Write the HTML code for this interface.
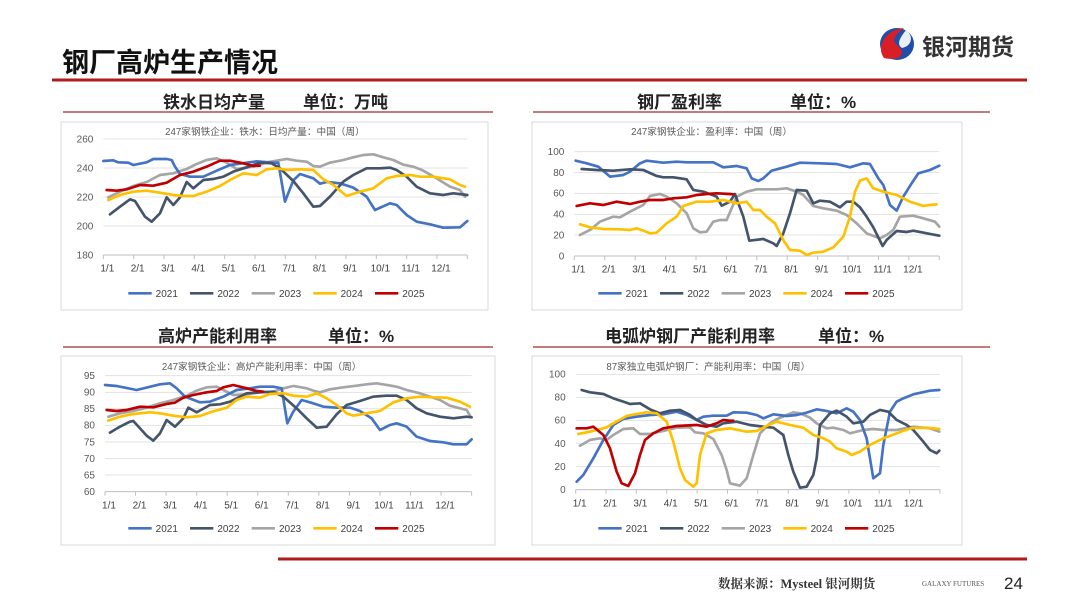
<!DOCTYPE html>
<html><head><meta charset="utf-8">
<style>
html,body{margin:0;padding:0;background:#fff;}
body{width:1080px;height:608px;position:relative;overflow:hidden;font-family:"Liberation Sans","Noto Sans CJK SC",sans-serif;}
</style></head>
<body>
<svg id="s" width="1080" height="608" viewBox="0 0 1080 608" xmlns="http://www.w3.org/2000/svg" style="position:absolute;left:0;top:0">
<text x="62" y="72" font-size="27" font-weight="bold" fill="#111" font-family="Liberation Sans,Noto Sans CJK SC,sans-serif">钢厂高炉生产情况</text>
<rect x="52" y="78.5" width="975" height="3" fill="#b01c1c"/>
<g>
<ellipse cx="897" cy="44" rx="17" ry="16" fill="#1f4fa8"/>
<path d="M884 58 C876 48 884 30 904 28 C896 34 890 40 898 46 C906 52 902 62 884 58 Z" fill="#d91f26"/>
<path d="M906 30 C914 36 912 46 902 48 C896 44 900 38 906 30Z" fill="#fff" opacity="0.9"/>
<text x="922" y="55" font-size="23" font-weight="bold" fill="#333" font-family="Liberation Sans,Noto Sans CJK SC,sans-serif">银河期货</text>
</g>
<rect x="278" y="557.5" width="749" height="3" fill="#b01c1c"/>
<text x="718" y="588" font-size="12.5" font-weight="bold" fill="#333" font-family="Liberation Serif,Noto Serif CJK SC,serif">数据来源：Mysteel 银河期货</text>
<text x="922" y="586" font-size="7" fill="#555" font-family="Liberation Serif,serif">GALAXY FUTURES</text>
<text x="1004" y="589" font-size="17" fill="#222">24</text>
<g id="charts"></g>
</svg>
<script>
const C={b:"#4472c4",d:"#44546a",g:"#a5a5a5",y:"#ffc000",r:"#c00000"};
const charts=[
{ox:60,oy:120,box:[61,122,488,310],hl:[63,493,112],h1:["铁水日均产量",163],h2:["单位：万吨",303],hy:108,
 title:"247家钢铁企业：铁水：日均产量：中国（周）",tx:615,
 yt:[[260,57],[240,144],[220,231],[200,318],[180,405]],x0:130,x1:1222,
 s:{b:"130,123 160,121 175,127 205,128 220,135 260,127 280,117 320,117 335,120 345,140 360,162 390,170 430,170 470,152 510,135 560,128 590,124 640,128 655,128 675,245 700,181 720,162 760,175 780,191 800,186 840,190 880,203 920,230 945,270 990,250 1010,255 1040,285 1070,305 1110,313 1150,323 1200,322 1222,303",
 d:"150,283 180,260 210,238 225,243 255,290 275,305 300,280 320,232 340,255 360,232 380,186 400,205 430,180 460,177 490,170 520,155 560,142 600,128 635,130 660,145 700,183 730,220 760,260 780,258 810,230 850,185 880,165 920,145 960,145 990,143 1010,150 1040,170 1070,200 1110,220 1150,225 1180,220 1222,225",
 g:"145,232 180,215 220,198 260,186 300,165 340,160 380,147 410,132 440,120 470,115 500,128 530,147 560,143 590,137 620,127 650,122 680,117 710,122 740,125 760,138 780,140 810,128 850,120 880,112 910,105 940,103 970,112 1000,120 1030,134 1060,140 1090,152 1130,175 1170,200 1200,210 1215,230",
 y:"145,240 180,225 220,215 260,212 300,218 340,225 370,228 400,228 440,215 480,198 510,180 550,160 590,165 620,148 650,145 680,150 720,148 760,150 790,178 820,195 860,228 900,215 940,205 980,175 1010,168 1050,165 1080,170 1120,170 1170,178 1200,195 1215,200",
 r:"140,210 170,212 200,208 240,195 280,197 320,188 360,165 400,155 440,140 480,122 510,122 550,130 580,138 600,137"}},
{ox:530,oy:120,box:[532,122,962,310],hl:[533,990,112],h1:["钢厂盈利率",637],h2:["单位：%",790],hy:108,
 title:"247家钢铁企业：盈利率：中国（周）",tx:545,
 yt:[[100,95],[80,158],[60,220],[40,283],[20,345],[0,408]],x0:133,x1:1228,
 s:{b:"137,122 170,130 205,140 240,170 280,165 300,155 330,130 350,122 400,128 440,125 470,127 550,127 580,142 620,138 650,145 665,175 685,183 700,175 725,152 770,140 810,128 870,130 920,132 960,142 1000,130 1020,132 1045,175 1060,195 1080,255 1100,272 1120,230 1145,190 1165,160 1200,150 1228,137",
 d:"155,147 200,150 250,152 300,148 340,150 380,168 400,172 430,172 470,178 490,210 520,215 560,230 575,257 600,245 615,222 640,290 658,362 700,357 730,370 740,378 760,340 780,280 800,210 830,212 850,250 870,242 900,245 930,262 950,245 970,245 990,262 1010,290 1030,322 1058,378 1070,360 1100,333 1130,336 1150,332 1200,342 1228,347",
 g:"150,345 180,330 210,305 250,290 270,292 300,275 340,255 360,228 390,222 410,230 440,250 470,280 490,325 510,337 530,335 550,305 570,300 590,300 620,230 650,215 680,208 740,208 770,205 800,215 820,225 850,258 880,265 920,272 950,285 980,310 1010,340 1050,355 1070,345 1090,330 1110,290 1150,287 1180,295 1215,305 1228,320",
 y:"150,313 180,322 220,327 270,328 300,330 320,325 340,332 360,340 380,338 410,310 440,290 460,258 500,245 540,245 580,240 620,250 650,245 670,270 690,270 710,290 735,310 760,360 780,390 810,392 830,405 850,398 880,395 910,382 940,350 960,290 975,215 990,182 1010,175 1030,205 1060,215 1100,225 1140,245 1180,258 1200,255 1220,253",
 r:"140,258 180,250 220,255 260,245 300,252 330,245 360,240 400,240 430,235 470,232 500,225 530,222 560,220 600,222 610,223"}},
{ox:60,oy:355,box:[61,356,495,545],hl:[63,493,347],h1:["高炉产能利用率",158],h2:["单位：%",328],hy:342,
 title:"247家钢铁企业：高炉产能利用率：中国（周）",tx:605,
 yt:[[95,62],[90,112],[85,161],[80,211],[75,261],[70,311],[65,360],[60,410]],x0:135,x1:1235,
 s:{b:"135,90 170,93 230,105 300,88 330,85 350,100 375,125 420,142 450,140 490,125 530,105 570,100 600,95 640,95 665,100 682,205 700,170 725,135 760,145 790,155 830,158 870,158 900,168 935,190 960,225 990,210 1010,205 1040,215 1070,245 1110,258 1150,262 1180,268 1220,268 1235,253",
 d:"150,233 180,215 210,200 220,198 260,242 280,257 300,235 320,195 345,215 370,190 385,158 410,172 450,150 480,148 510,140 560,115 600,112 640,110 670,125 710,160 740,190 770,218 800,215 830,178 860,150 900,138 940,125 980,122 1010,122 1040,135 1070,160 1100,175 1140,185 1180,190 1220,185 1235,187",
 g:"145,185 180,175 220,168 260,158 300,145 340,135 380,122 410,107 440,97 470,95 490,105 520,120 560,118 600,112 640,110 670,100 700,93 740,100 760,107 780,112 810,103 850,97 890,92 920,88 950,85 980,90 1010,95 1040,105 1080,115 1110,125 1140,135 1170,152 1200,160 1220,165 1232,185",
 y:"145,197 180,185 220,177 270,172 300,175 340,182 380,187 420,183 450,172 500,158 530,135 560,125 600,128 630,117 670,115 700,122 740,125 770,115 800,130 830,150 860,175 880,182 920,175 960,168 1000,142 1040,130 1080,125 1120,127 1160,128 1200,140 1230,155",
 r:"140,165 170,168 200,165 240,155 280,157 320,147 345,143 370,128 400,120 440,112 470,108 490,97 520,90 560,100 590,108 610,110"}},
{ox:530,oy:355,box:[532,356,962,545],hl:[533,990,347],h1:["电弧炉钢厂产能利用率",605],h2:["单位：%",818],hy:342,
 title:"87家独立电弧炉钢厂：产能利用率：中国（周）",tx:535,
 yt:[[100,58],[80,127],[60,196],[40,266],[20,335],[0,404]],x0:137,x1:1230,
 s:{b:"140,380 160,360 190,310 220,255 250,210 280,192 320,185 360,180 400,178 440,170 470,180 500,195 520,185 550,182 590,182 610,172 650,173 680,180 700,190 730,178 770,183 800,180 830,173 860,163 890,168 920,175 950,160 970,170 990,195 1010,250 1030,370 1050,355 1060,270 1080,170 1100,140 1120,130 1150,118 1200,107 1228,105",
 d:"155,105 180,112 220,117 250,130 280,140 300,147 330,145 360,163 390,175 420,167 450,165 480,180 500,195 530,210 560,215 580,205 620,200 660,210 700,215 730,218 760,240 775,300 790,350 810,398 830,395 850,360 860,310 870,210 900,175 920,167 950,185 970,205 1000,200 1020,180 1050,165 1075,170 1100,195 1130,210 1150,225 1180,260 1200,285 1220,295 1228,287",
 g:"150,272 180,255 210,250 230,255 250,240 280,222 310,220 330,237 360,237 400,228 440,218 480,217 495,232 520,235 550,252 575,300 590,345 600,385 630,392 650,370 670,300 690,235 720,205 740,193 770,180 790,172 810,175 840,188 860,205 890,220 910,218 940,225 960,235 1000,225 1030,222 1060,225 1100,225 1150,215 1200,220 1228,230",
 y:"145,237 180,230 230,217 250,205 290,183 320,177 350,172 380,175 410,200 430,260 450,340 465,375 490,395 500,385 510,300 530,235 560,225 600,220 650,230 680,228 700,218 720,208 740,200 780,210 820,218 850,240 880,250 900,260 920,280 950,290 965,300 990,290 1020,270 1060,250 1100,235 1140,220 1190,218 1228,222",
 r:"140,220 170,220 190,215 220,240 240,280 260,350 275,385 295,393 315,355 330,300 345,255 370,235 400,220 440,213 500,210 530,215 560,205 580,195 600,197 610,197"}}
];
const months=["1/1","2/1","3/1","4/1","5/1","6/1","7/1","8/1","9/1","10/1","11/1","12/1"];
let h="";
const F='font-family="Liberation Sans,Noto Sans CJK SC,sans-serif"';
for(const c of charts){
 const [bx0,by0,bx1,by1]=c.box;
 h+=`<rect x="${bx0}" y="${by0}" width="${bx1-bx0}" height="${by1-by0}" fill="#fff" stroke="#d9d9d9" stroke-width="1"/>`;
 h+=`<line x1="${c.hl[0]}" x2="${c.hl[1]}" y1="${c.hl[2]}" y2="${c.hl[2]}" stroke="#a52a2a" stroke-width="1.2"/>`;
 h+=`<text x="${c.h1[1]}" y="${c.hy}" font-size="17" font-weight="bold" fill="#222" ${F}>${c.h1[0]}</text>`;
 h+=`<text x="${c.h2[1]}" y="${c.hy}" font-size="17" font-weight="bold" fill="#222" ${F}>${c.h2[0]}</text>`;
 h+=`<g transform="translate(${c.ox},${c.oy}) scale(0.3333)">`;
 h+=`<text x="${c.tx}" y="45" font-size="29" fill="#595959" text-anchor="middle" ${F}>${c.title}</text>`;
 const ybot=c.yt[c.yt.length-1][1];
 for(const [v,y] of c.yt){
  if(y!==ybot) h+=`<line x1="${c.x0}" x2="${c.x1}" y1="${y}" y2="${y}" stroke="#e3e3e3" stroke-width="3"/>`;
  h+=`<text x="${c.x0-30}" y="${y+10}" font-size="30" fill="#595959" text-anchor="end" ${F}>${v}</text>`;
 }
 h+=`<line x1="${c.x0}" x2="${c.x1}" y1="${ybot}" y2="${ybot}" stroke="#bfbfbf" stroke-width="3"/>`;
 const step=(c.x1-c.x0)/12;
 for(let i=0;i<=12;i++){const x=c.x0+i*step;h+=`<line x1="${x}" x2="${x}" y1="${ybot}" y2="${ybot+12}" stroke="#bfbfbf" stroke-width="3"/>`;}
 months.forEach((m,i)=>{const x=c.x0+i*step+12;h+=`<text x="${x}" y="${ybot+50}" font-size="30" fill="#404040" text-anchor="middle" ${F}>${m}</text>`;});
 for(const k of ["g","b","d","y","r"]) h+=`<polyline points="${c.s[k]}" fill="none" stroke="${C[k]}" stroke-width="8" stroke-linejoin="round" stroke-linecap="round"/>`;
 const leg=[["b","2021",205],["d","2022",390],["g","2023",575],["y","2024",760],["r","2025",945]];
 for(const [k,t,x] of leg){h+=`<line x1="${x}" x2="${x+70}" y1="520" y2="520" stroke="${C[k]}" stroke-width="8"/><text x="${x+82}" y="531" font-size="30" fill="#404040" ${F}>${t}</text>`;}
 h+=`</g>`;
}
document.getElementById("charts").innerHTML=h;
</script>
</body></html>
